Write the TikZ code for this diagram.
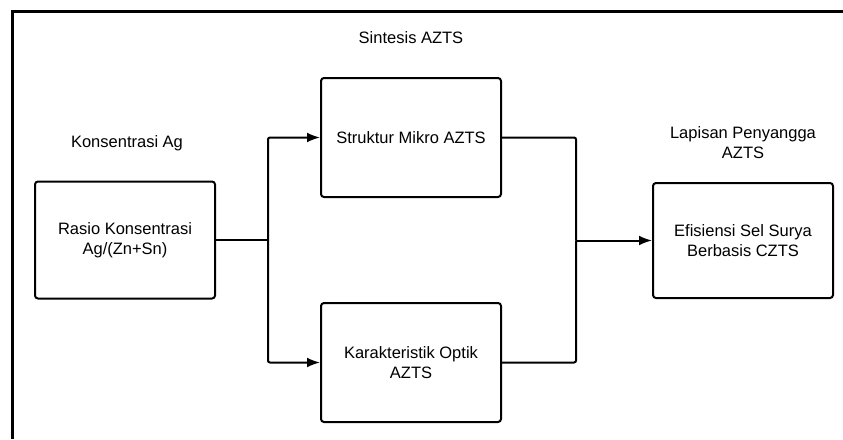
\documentclass[tikz,border=0pt]{standalone}
\usepackage{fontspec}
\setmainfont{Liberation Sans}
\usepackage{tikz}
\usetikzlibrary{arrows.meta,positioning,calc}

\begin{document}
\begin{tikzpicture}[x=1pt,y=-1pt,
  kotak/.style={draw,line width=2pt,rounded corners=3pt,minimum width=180pt,minimum height=117pt,align=center,font=\fontsize{16.5}{20}\selectfont},
  judul/.style={align=center,font=\fontsize{16.5}{20}\selectfont},
  garis/.style={line width=2pt,rounded corners=2pt},
  panah/.style={garis,-{Latex[length=13pt,width=10pt]}}]
\useasboundingbox (0,0) rectangle (843,439);
\draw[line width=3pt] (12,439) -- (12,11) -- (843,11);
\node[kotak] (rasio) at (125,240) {Rasio Konsentrasi\\Ag/(Zn+Sn)};
\node[kotak,minimum height=119pt] (mikro) at (411,137.5) {Struktur Mikro AZTS};
\node[kotak,minimum height=119pt] (optik) at (411,362.5) {Karakteristik Optik\\AZTS};
\node[kotak,minimum height=115pt] (efisiensi) at (743,240.5) {Efisiensi Sel Surya\\Berbasis CZTS};
\node[judul] (konsentrasi) at (127,143) {Konsentrasi Ag};
\node[judul] (sintesis) at (411,38) {Sintesis AZTS};
\node[judul] (lapisan) at (743,143) {Lapisan Penyangga\\AZTS};
\coordinate (cabang) at (268,240);
\coordinate (gabung) at (576,240.5);
\draw[garis] (rasio.east) -- (cabang);
\draw[panah] (cabang) |- (mikro.west);
\draw[panah] (cabang) |- (optik.west);
\draw[garis] (mikro.east) -| (gabung);
\draw[garis] (optik.east) -| (gabung);
\draw[panah] (gabung) -- (efisiensi.west);
\end{tikzpicture}
\end{document}
